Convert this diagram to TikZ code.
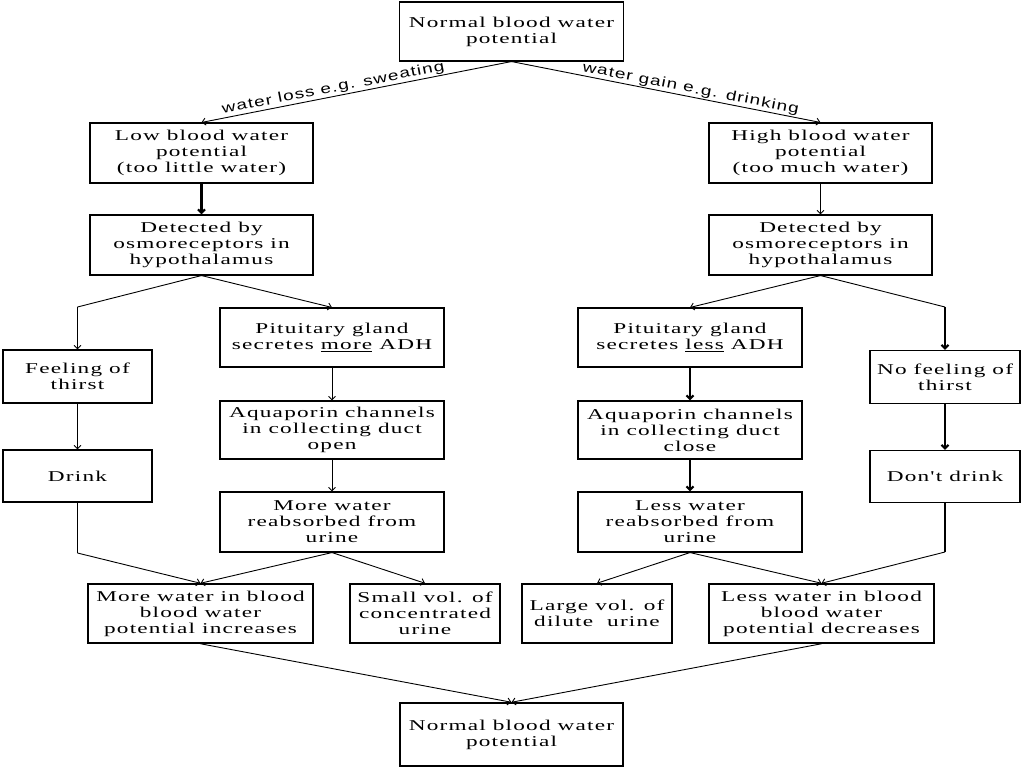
\documentclass[tikz,border=0pt]{standalone}
\usepackage{fontspec}
\setmainfont{Liberation Serif}
\newfontfamily\boxfont[FakeStretch=1.55,LetterSpace=8]{Liberation Serif}
\newfontfamily\labfont[FakeStretch=1.35,LetterSpace=8]{Liberation Sans}
\usetikzlibrary{arrows.meta}
\tikzset{
  bx/.style={draw, line width=1.1pt, inner sep=0pt, align=center,
    font=\boxfont\fontsize{15}{16}\selectfont},
  conn/.style={line width=0.9pt, -{Straight Barb[length=3.5pt,width=7pt]}},
  thickconn/.style={conn, line width=2.2pt},
  seg/.style={line width=0.9pt},
  thickseg/.style={line width=2.2pt},
  lab/.style={font=\labfont\fontsize{14}{15}\selectfont, sloped, above, inner sep=1pt}
}
\begin{document}
\begin{tikzpicture}[x=1pt,y=-1pt]
\fill[white] (0,0) rectangle (1024,768);
\useasboundingbox (0,0) rectangle (1024,768);

\node[bx, minimum width=224pt, minimum height=59pt] (top) at (511.5,31.5) {Normal blood water\\potential};
\node[bx, minimum width=223pt, minimum height=60pt] (low) at (201.5,153) {Low blood water\\potential\\(too little water)};
\node[bx, minimum width=223pt, minimum height=60pt] (high) at (820.5,153) {High blood water\\potential\\(too much water)};
\node[bx, minimum width=223pt, minimum height=60pt] (detL) at (201.5,245) {Detected by\\osmoreceptors in\\hypothalamus};
\node[bx, minimum width=223pt, minimum height=60pt] (detR) at (820.5,245) {Detected by\\osmoreceptors in\\hypothalamus};

\node[bx, minimum width=149pt, minimum height=53pt] (thirst) at (77.5,376.5) {Feeling of\\thirst};
\node[bx, minimum width=149pt, minimum height=52pt] (drink) at (77.5,476) {Drink};
\node[bx, minimum width=150pt, minimum height=53pt] (nothirst) at (945,377) {No feeling of\\thirst};
\node[bx, minimum width=150pt, minimum height=52pt] (nodrink) at (945,476.5) {Don't drink};

\node[bx, minimum width=224pt, minimum height=59pt] (pitM) at (332,337.5) {Pituitary gland\\secretes \underline{more} ADH};
\node[bx, minimum width=224pt, minimum height=58pt] (aquaO) at (332,430) {Aquaporin channels\\in collecting duct\\open};
\node[bx, minimum width=224pt, minimum height=60pt] (reabM) at (332,522) {More water\\reabsorbed from\\urine};
\node[bx, minimum width=224pt, minimum height=59pt] (pitL) at (690,337.5) {Pituitary gland\\secretes \underline{less} ADH};
\node[bx, minimum width=224pt, minimum height=58pt] (aquaC) at (690,430) {Aquaporin channels\\in collecting duct\\close};
\node[bx, minimum width=224pt, minimum height=60pt] (reabL) at (690,522) {Less water\\reabsorbed from\\urine};

\node[bx, line width=1.5pt, minimum width=225pt, minimum height=59pt] (moreblood) at (200.5,613.5) {More water in blood\\blood water\\potential increases};
\node[bx, line width=1.5pt, minimum width=150pt, minimum height=59pt] (smallvol) at (425,613.5) {Small vol. of\\concentrated\\urine};
\node[bx, line width=1.5pt, minimum width=150pt, minimum height=59pt] (largevol) at (597,613.5) {Large vol. of\\dilute\ \ urine};
\node[bx, line width=1.5pt, minimum width=225pt, minimum height=59pt] (lessblood) at (821.5,613.5) {Less water in blood\\blood water\\potential decreases};
\node[bx, line width=1.5pt, minimum width=223pt, minimum height=63pt] (bottom) at (511.5,734.5) {Normal blood water\\potential};

\coordinate (cL1) at (77.5,307);
\coordinate (cL2) at (77.5,553);
\coordinate (cR1) at (945,307);
\coordinate (cR2) at (945,552);

\draw[conn] (top.south) -- node[lab, pos=0.57] {water loss e.g. sweating} (low.north);
\draw[conn] (top.south) -- node[lab, pos=0.575] {water gain e.g. drinking} (high.north);
\draw[thickconn] (low) -- (detL);
\draw[conn] (high) -- (detR);

\draw[seg] (detL.south) -- (cL1);
\draw[conn] (cL1) -- (thirst.north);
\draw[conn] (detL.south) -- (pitM.north);
\draw[conn] (thirst) -- (drink);
\draw[seg] (drink.south) -- (cL2);
\draw[conn] (cL2) -- (moreblood.north);
\draw[conn] (pitM) -- (aquaO);
\draw[conn] (aquaO) -- (reabM);
\draw[conn] (reabM.south) -- (moreblood.north);
\draw[conn] (reabM.south) -- (smallvol.north);

\draw[conn] (detR.south) -- (pitL.north);
\draw[seg] (detR.south) -- (cR1);
\draw[thickconn] (cR1) -- (nothirst.north);
\draw[thickconn] (nothirst) -- (nodrink);
\draw[thickseg] (nodrink.south) -- (cR2);
\draw[conn] (cR2) -- (lessblood.north);
\draw[thickconn] (pitL) -- (aquaC);
\draw[thickconn] (aquaC) -- (reabL);
\draw[conn] (reabL.south) -- (largevol.north);
\draw[conn] (reabL.south) -- (lessblood.north);

\draw[conn] (moreblood.south) -- (bottom.north);
\draw[conn] (lessblood.south) -- (bottom.north);
\end{tikzpicture}
\end{document}
